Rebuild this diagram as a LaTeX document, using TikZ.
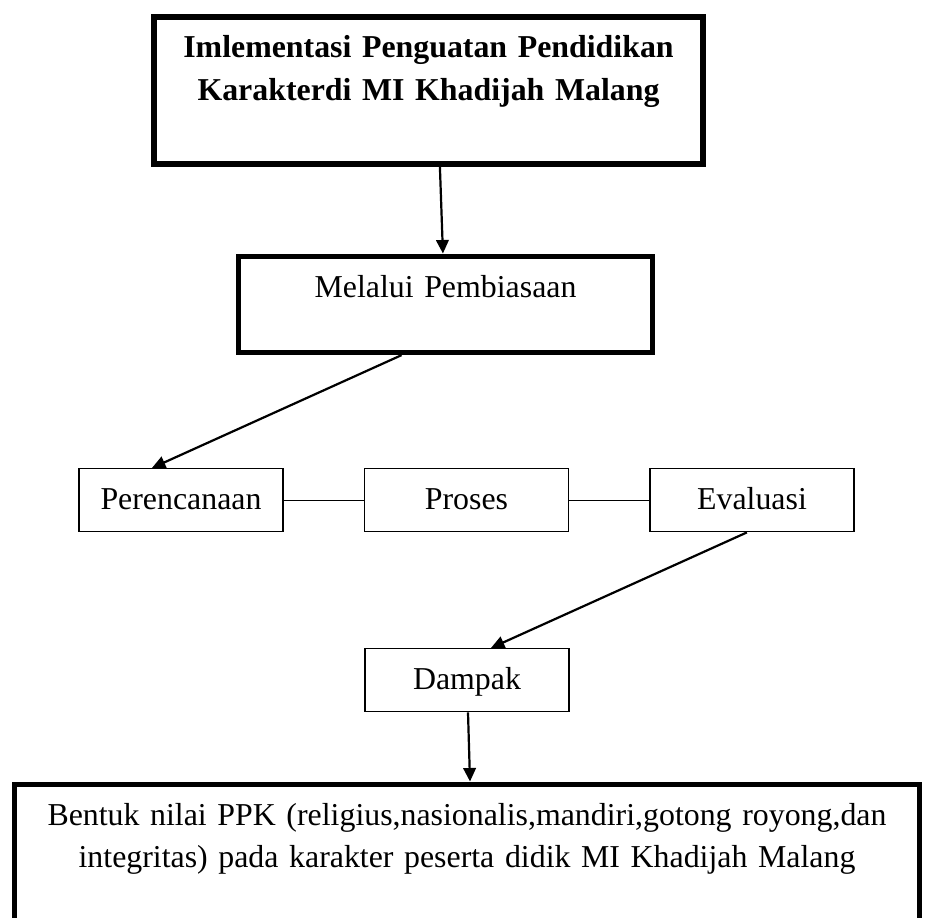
\documentclass[tikz,border=0pt]{standalone}
\usepackage{fontspec}
\setmainfont{Liberation Serif}
\usetikzlibrary{arrows.meta}

\begin{document}
\begin{tikzpicture}[x=0.43pt, y=-0.43pt,
    every node/.style={font=\fontsize{13.7}{18.3}\selectfont, inner xsep=0pt, inner ysep=0pt, align=center},
    bigbox/.style={draw, line width=2.2pt, text height=17.85pt},
    smallbox/.style={draw, line width=0.6pt, text width=87.7pt, text height=17.6pt, text depth=9.5pt},
    arr/.style={line width=0.95pt, -{Triangle[length=5.8pt,width=5.4pt]}}]

    \useasboundingbox (0,0) rectangle (925,918);

    % Judul
    \node[bigbox, anchor=north, line width=2.4pt, text width=236.1pt, text height=17.6pt, text depth=45.6pt,
          font=\fontsize{13.7}{18.5}\selectfont\bfseries] (judul) at (428.5,14)
        {Imlementasi Penguatan Pendidikan\\Karakterdi MI Khadijah Malang};

    % Pembiasaan
    \node[bigbox, anchor=north, text width=178pt, text depth=23.65pt] (pembiasaan) at (445.5,253.5)
        {Melalui Pembiasaan};

    % Tahapan
    \node[smallbox, anchor=north] (perencanaan) at (181,468) {Perencanaan};
    \node[smallbox, anchor=north] (proses) at (466.5,468) {Proses};
    \node[smallbox, anchor=north] (evaluasi) at (752,468) {Evaluasi};

    % Dampak
    \node[smallbox, anchor=north] (dampak) at (467,648) {Dampak};

    % Nilai PPK
    \node[bigbox, anchor=north, text width=389.2pt, text depth=68.8pt,
          font=\fontsize{13.7}{18.06}\selectfont] (nilai) at (467,781.5)
        {Bentuk nilai PPK (religius,nasionalis,mandiri,gotong royong,dan\\integritas) pada karakter peserta didik MI Khadijah Malang};

    % Panah
    \draw[arr] ([xshift=4.9pt]judul.south) -- ([xshift=-1.1pt]pembiasaan.north);
    \draw[arr] ([xshift=-18.9pt]pembiasaan.south) -- ([xshift=-12.5pt]perencanaan.north);
    \draw[line width=0.56pt] (perencanaan) -- (proses);
    \draw[line width=0.56pt] (proses) -- (evaluasi);
    \draw[arr] ([xshift=-2.2pt]evaluasi.south) -- ([xshift=10.3pt]dampak.north);
    \draw[arr] ([xshift=0.43pt]dampak.south) -- ([xshift=1.3pt]nilai.north);
\end{tikzpicture}
\end{document}
